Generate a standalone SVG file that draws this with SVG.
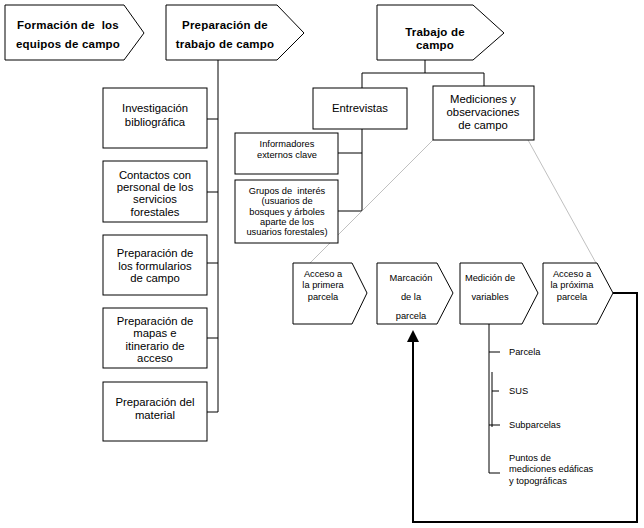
<svg xmlns="http://www.w3.org/2000/svg" width="644" height="528" viewBox="0 0 644 528">
<style>
.shape{fill:#fff;stroke:#000;stroke-width:1}
.t{font-family:"Liberation Sans",Arial,sans-serif;font-size:11.3px;text-anchor:middle;fill:#000}
.b{font-family:"Liberation Sans",Arial,sans-serif;font-size:11.5px;font-weight:bold;text-anchor:middle;fill:#000;letter-spacing:0.2px}
.s{font-family:"Liberation Sans",Arial,sans-serif;font-size:9.3px;text-anchor:middle;fill:#000}
.sl{font-family:"Liberation Sans",Arial,sans-serif;font-size:9.3px;fill:#000}
.c{fill:none;stroke:#000;stroke-width:1}
.g{fill:none;stroke:#b0b0b0;stroke-width:0.8}
.k{fill:none;stroke:#000;stroke-width:2}
</style>
<rect width="644" height="528" fill="#fff"/>
<g id="connectors">
<path class="c" d="M218,60V412M207,119H218M207,192H218M207,263H218M207,338H218M207,412H218"/>
<path class="c" d="M425,60V73M362,73H484M362,73V88M484,73V86"/>
<path class="c" d="M362,129V211M338,153H362M338,211H362"/>
<path class="g" d="M433,140L310,263M528,140L596,263"/>
<path class="c" d="M489,324V473M492,372V427M489,352H500M492,391H499M489,425H500M489,473H500"/>
<polyline class="k" points="613,293 637,293 637,522 413,522 413,340"/>
<polygon points="413,330 407,342 419,342" fill="#000"/>
</g>
<g id="formacion">
<polygon class="shape" points="5,5 124,5 144,33 124,60 5,60"/>
<text class="b" x="68" y="29" xml:space="preserve">Formación de  los</text>
<text class="b" x="68" y="48">equipos de campo</text>
</g>
<g id="preparacion">
<polygon class="shape" points="166,5 277,5 304,33 277,60 166,60"/>
<text class="b" x="225" y="29">Preparación de</text>
<text class="b" x="225" y="48">trabajo de campo</text>
</g>
<g id="trabajo">
<polygon class="shape" points="377,5 473,5 504,33 473,60 377,60"/>
<text class="b" x="435" y="36">Trabajo de</text>
<text class="b" x="435" y="49">campo</text>
</g>
<g id="investigacion">
<rect class="shape" x="103" y="88" width="104" height="60"/>
<text class="t" x="155" y="112">Investigación</text>
<text class="t" x="155" y="126">bibliográfica</text>
</g>
<g id="contactos">
<rect class="shape" x="103" y="161" width="104" height="61"/>
<text class="t" x="155" y="179">Contactos con</text>
<text class="t" x="155" y="191">personal de los</text>
<text class="t" x="155" y="203">servicios</text>
<text class="t" x="155" y="216">forestales</text>
</g>
<g id="formularios">
<rect class="shape" x="103" y="235" width="104" height="60"/>
<text class="t" x="155" y="257">Preparación de</text>
<text class="t" x="155" y="270">los formularios</text>
<text class="t" x="155" y="282">de campo</text>
</g>
<g id="mapas">
<rect class="shape" x="103" y="308" width="104" height="60"/>
<text class="t" x="155" y="325">Preparación de</text>
<text class="t" x="155" y="337">mapas e</text>
<text class="t" x="155" y="350">itinerario de</text>
<text class="t" x="155" y="362">acceso</text>
</g>
<g id="material">
<rect class="shape" x="103" y="382" width="104" height="59"/>
<text class="t" x="155" y="406">Preparación del</text>
<text class="t" x="155" y="419">material</text>
</g>
<g id="entrevistas">
<rect class="shape" x="313" y="88" width="94" height="41"/>
<text class="t" x="360" y="112">Entrevistas</text>
</g>
<g id="mediciones">
<rect class="shape" x="433" y="86" width="101" height="54"/>
<text class="t" x="483" y="103">Mediciones y</text>
<text class="t" x="483" y="116">observaciones</text>
<text class="t" x="483" y="129">de campo</text>
</g>
<g id="informadores">
<rect class="shape" x="235" y="133" width="103" height="41"/>
<text class="s" x="287" y="147">Informadores</text>
<text class="s" x="287" y="158">externos clave</text>
</g>
<g id="grupos">
<rect class="shape" x="235" y="180" width="103" height="63"/>
<text class="s" x="287" y="194" xml:space="preserve">Grupos de  interés</text>
<text class="s" x="287" y="204">(usuarios de</text>
<text class="s" x="287" y="215">bosques y árboles</text>
<text class="s" x="287" y="225">aparte de los</text>
<text class="s" x="287" y="235">usuarios forestales)</text>
</g>
<g id="acceso1">
<polygon class="shape" points="293,263 352,263 367,293 352,324 293,324"/>
<text class="s" x="323" y="277">Acceso a</text>
<text class="s" x="323" y="288">la primera</text>
<text class="s" x="323" y="300">parcela</text>
</g>
<g id="marcacion">
<polygon class="shape" points="377,263 437,263 453,293 437,324 377,324"/>
<text class="s" x="411" y="281">Marcación</text>
<text class="s" x="411" y="300">de la</text>
<text class="s" x="411" y="319">parcela</text>
</g>
<g id="medicion">
<polygon class="shape" points="460,263 522,263 538,293 522,324 460,324"/>
<text class="s" x="490" y="281">Medición de</text>
<text class="s" x="490" y="300">variables</text>
</g>
<g id="acceso2">
<polygon class="shape" points="543,263 597,263 613,293 597,324 543,324"/>
<text class="s" x="572" y="277">Acceso a</text>
<text class="s" x="572" y="288">la próxima</text>
<text class="s" x="572" y="300">parcela</text>
</g>
<g id="variables">
<text class="sl" x="509" y="355">Parcela</text>
<text class="sl" x="509" y="394">SUS</text>
<text class="sl" x="509" y="428">Subparcelas</text>
<text class="sl" x="509" y="461">Puntos de</text>
<text class="sl" x="509" y="472">mediciones edáficas</text>
<text class="sl" x="509" y="484">y topográficas</text>
</g>
</svg>
